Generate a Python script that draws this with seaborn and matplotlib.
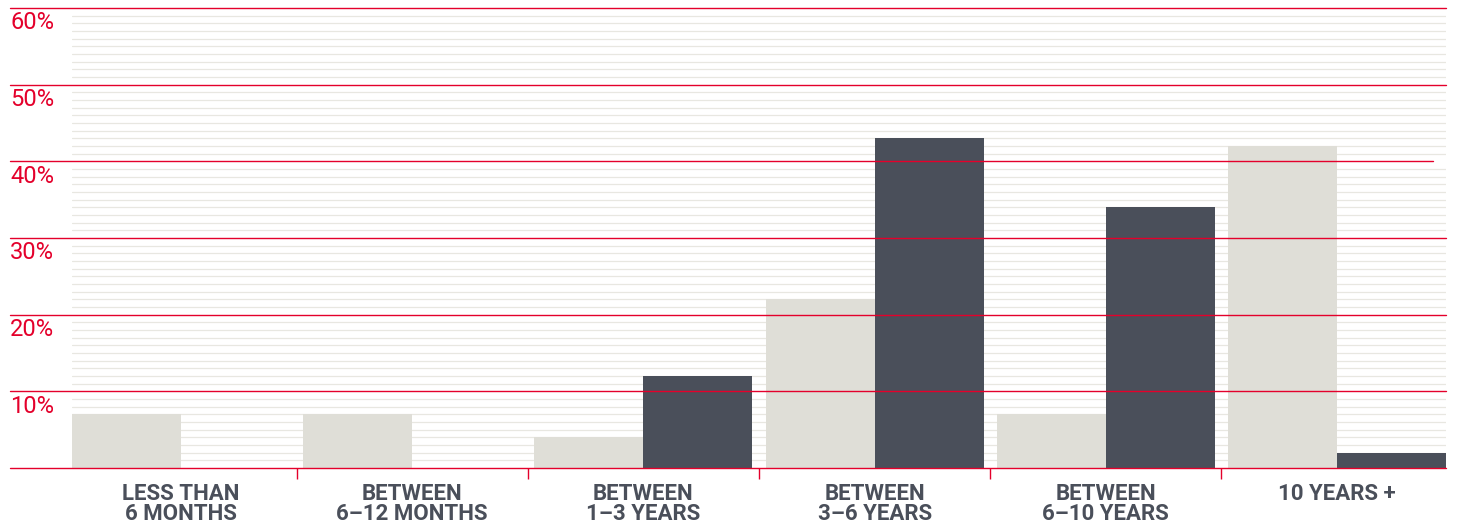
import matplotlib
matplotlib.use("Agg")
import matplotlib.pyplot as plt
import matplotlib.transforms as mtransforms
import seaborn as sns
import pandas as pd

# Tenure buckets and the share of respondents in each (percent)
categories = ["LESS THAN\n6 MONTHS", "BETWEEN\n6–12 MONTHS", "BETWEEN\n1–3 YEARS",
              "BETWEEN\n3–6 YEARS", "BETWEEN\n6–10 YEARS", "10 YEARS +"]
series_names = ["series_1", "series_2"]
series_1 = [7, 7, 4, 22, 7, 42]
series_2 = [0, 0, 12, 43, 34, 2]
y_ticks = [10, 20, 30, 40, 50, 60]
y_tick_labels = ["10%", "20%", "30%", "40%", "50%", "60%"]

LIGHT = "#dfded7"
DARK = "#4a4f5a"
RED = "#e4002b"
MINOR = "#e8e7e1"
FONT = ["Roboto", "DejaVu Sans"]

df = pd.DataFrame({
    "category": categories * 2,
    "series": [series_names[0]] * len(categories) + [series_names[1]] * len(categories),
    "value": series_1 + series_2,
})

sns.set_theme(style="white")
plt.rcParams["font.family"] = FONT

W, H = 1457, 525
fig = plt.figure(figsize=(W / 100, H / 100), dpi=100)
ax_left, ax_right, ax_bottom, ax_top = 72, 1446, 468, 8
ax = fig.add_axes([ax_left / W, (H - ax_bottom) / H,
                   (ax_right - ax_left) / W, (ax_bottom - ax_top) / H])

bar_width = 0.943
sns.barplot(data=df, x="category", y="value", hue="series", order=categories,
            hue_order=series_names, palette=[LIGHT, DARK], width=bar_width,
            gap=0, saturation=1, legend=False, ax=ax, zorder=2, linewidth=0)

half = bar_width / 2
ax.set_xlim(-half, len(categories) - 1 + half)
ax.set_ylim(0, 60)

# thin background rules every 1%
for v in range(1, 60):
    if v % 10:
        ax.axhline(v, color=MINOR, lw=0.9, zorder=0)

# red rules every 10%, extended left under the labels
x_start = (10 - ax_left) / (ax_right - ax_left)
for v in [0] + y_ticks:
    x_end = (1433 - ax_left) / (ax_right - ax_left) if v == 40 else 1.0
    ax.axhline(v, xmin=x_start, xmax=x_end, color=RED, lw=1.0, zorder=3,
               clip_on=False)

# y labels sit just below their rule, at the far left
trans = mtransforms.blended_transform_factory(fig.transFigure, ax.transData)
for v, lab in zip(y_ticks, y_tick_labels):
    ax.text(10 / W, v - 0.45, lab, transform=trans, ha="left", va="top",
            color=RED, fontsize=17, family=FONT)

ax.set_yticks([])
ax.set_ylabel("")
ax.set_xlabel("")
ax.set_xticks(range(len(categories)))
ax.set_xticklabels(categories, fontsize=16, fontweight="bold", color=DARK,
                   linespacing=0.85, family=FONT)
ax.tick_params(axis="x", which="major", length=0, pad=11)
ax.set_xticks([i + 0.5 for i in range(len(categories) - 1)], minor=True)
ax.tick_params(axis="x", which="minor", length=8, width=1, color=RED,
               direction="out", bottom=True)
for s in ax.spines.values():
    s.set_visible(False)

fig.savefig("out.png", dpi=100)
